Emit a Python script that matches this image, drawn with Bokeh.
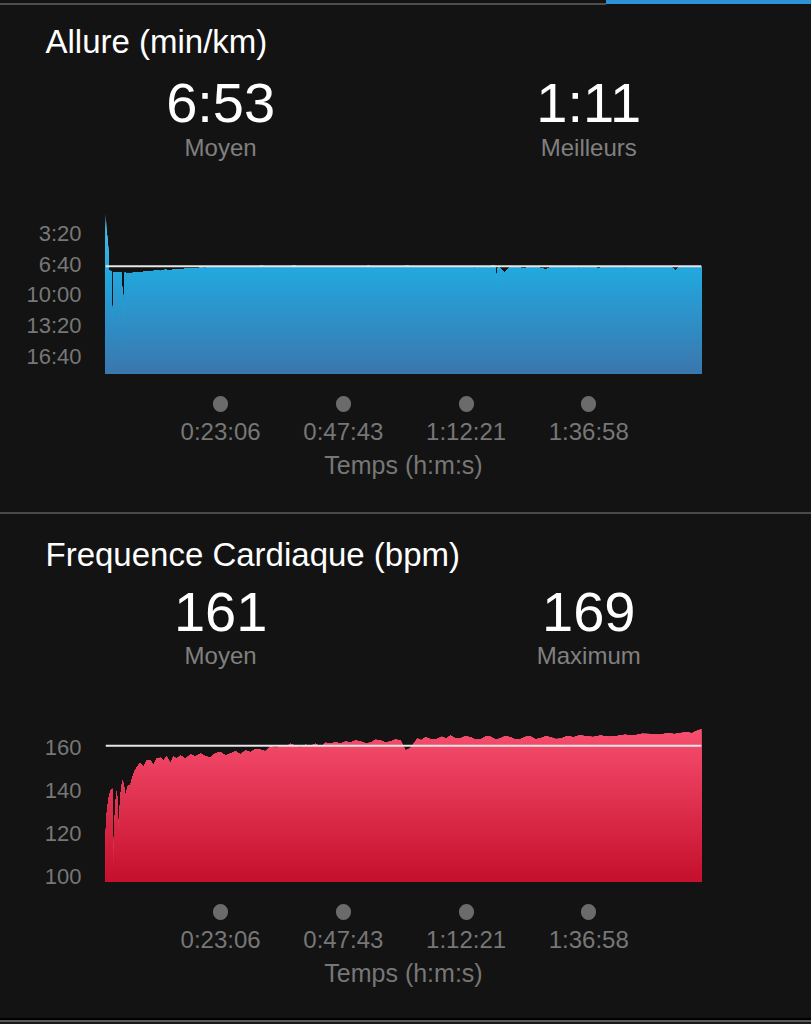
import numpy as np
from bokeh.plotting import figure
from bokeh.models import Range1d, FixedTicker, Span, LinearAxis, Spacer
from bokeh.layouts import column, row
from bokeh.embed import file_html
from bokeh.resources import INLINE

BG = "#131313"
FONT = "Liberation Sans"
GRAY = "#777777"

# ---------------- data ----------------
duration_s = 7175
time_ticks = [1386, 2863, 4341, 5818]
time_tick_labels = ["0:23:06", "0:47:43", "1:12:21", "1:36:58"]

pace_ticks = [200, 400, 600, 800, 1000]
pace_tick_labels = ["3:20", "6:40", "10:00", "13:20", "16:40"]
pace_avg_s = 413          # 6:53
pace_summary = ["6:53", "1:11"]
pace_summary_names = ["Moyen", "Meilleurs"]

hr_ticks = [100, 120, 140, 160]
hr_tick_labels = ["100", "120", "140", "160"]
hr_avg = 161
hr_summary = ["161", "169"]
hr_summary_names = ["Moyen", "Maximum"]

# (time in s, pace in s/km)
pace_points = [
    (0, 150), (4, 71), (10, 180), (20, 300), (26, 205), (34, 330), (42, 440),
    (70, 445), (80, 700), (86, 1100), (92, 700), (100, 450), (140, 455),
    (190, 452), (205, 600), (214, 1040), (222, 600), (232, 455), (300, 460),
    (360, 452), (420, 456), (480, 446), (540, 449), (600, 441), (660, 444),
    (720, 436), (780, 439), (840, 432), (900, 435), (960, 429), (1020, 426),
    (1080, 429), (1140, 422), (1200, 425), (1260, 418), (1320, 421),
    (1400, 415), (1480, 419), (1560, 412), (1640, 417), (1720, 420),
    (1800, 414), (1880, 410), (1960, 418), (2040, 415), (2120, 421),
    (2200, 413), (2280, 409), (2360, 416), (2440, 419), (2520, 412),
    (2600, 417), (2680, 414), (2760, 420), (2840, 411), (2920, 416),
    (3000, 413), (3080, 418), (3160, 410), (3240, 415), (3320, 419),
    (3400, 412), (3480, 416), (3560, 413), (3640, 409), (3720, 417),
    (3800, 421), (3880, 414), (3960, 418), (4040, 412), (4120, 416),
    (4200, 420), (4280, 413), (4360, 417), (4440, 424), (4520, 415),
    (4600, 419), (4680, 405), (4700, 420), (4707, 590), (4714, 430),
    (4740, 418), (4804, 453), (4880, 416), (4960, 420), (5040, 427),
    (5120, 414), (5200, 419), (5300, 434), (5380, 416), (5460, 421),
    (5540, 413), (5620, 418), (5700, 424), (5780, 415), (5860, 419),
    (5940, 426), (6020, 414), (6100, 420), (6180, 417), (6260, 425),
    (6340, 415), (6420, 421), (6500, 418), (6580, 412), (6660, 420),
    (6740, 416), (6820, 422), (6865, 440), (6900, 418), (6980, 414),
    (7060, 419), (7140, 416), (7175, 417),
]

# (time in s, heart rate in bpm)
hr_points = [
    (0, 118), (12, 128), (36, 136), (60, 140), (84, 141), (96, 102),
    (108, 125), (132, 140), (144, 136), (156, 121), (181, 138), (205, 145),
    (229, 141), (241, 137), (265, 142), (301, 143), (337, 148), (361, 150),
    (397, 152), (421, 153), (457, 151), (494, 154), (542, 154), (578, 152),
    (614, 155), (662, 155.5), (698, 154), (734, 156), (782, 153), (818, 156),
    (855, 155), (903, 156.5), (963, 155), (1023, 157), (1084, 156),
    (1144, 157.4), (1204, 156), (1264, 155.6), (1324, 157.5), (1385, 158),
    (1445, 156.5), (1505, 157.4), (1565, 158.5), (1625, 157), (1685, 158.8),
    (1746, 158), (1806, 159.5), (1866, 159.2), (1926, 158.5), (1986, 160.8),
    (2047, 160), (2107, 161), (2167, 160.5), (2227, 162), (2288, 161),
    (2348, 160.4), (2408, 161.5), (2468, 161), (2530, 162), (2589, 160.5),
    (2650, 162.5), (2709, 162), (2770, 162.8), (2829, 162), (2890, 163),
    (2950, 162.6), (3010, 163.5), (3070, 163), (3130, 162.2), (3190, 162.5),
    (3250, 163.8), (3311, 163.5), (3370, 162.6), (3431, 163), (3490, 164),
    (3552, 163.5), (3612, 158.8), (3672, 160), (3756, 164.4), (3800, 163.6),
    (3853, 165), (3910, 164.2), (3973, 164), (4050, 165.2), (4100, 164.4),
    (4154, 165.8), (4210, 164.6), (4274, 164.5), (4330, 165.5),
    (4395, 165), (4455, 163.8), (4515, 164), (4575, 165.4), (4635, 165.3),
    (4700, 163.9), (4756, 164.5), (4815, 165.6), (4876, 165), (4935, 164),
    (4997, 164.2), (5060, 165.3), (5117, 165.4), (5180, 164.1),
    (5238, 164.5), (5300, 165.5), (5358, 165), (5420, 164.2), (5478, 164.3),
    (5560, 165.6), (5635, 165), (5710, 165.9), (5779, 165.5), (5870, 165.1),
    (5960, 165.8), (6050, 165.2), (6140, 165.5), (6250, 166.2),
    (6357, 165.8), (6460, 166.6), (6562, 166.5), (6660, 166.2),
    (6767, 166.9), (6850, 166.5), (6923, 167), (7007, 167.4), (7060, 166.9),
    (7104, 167.8), (7164, 168.6), (7175, 168.9),
]

pace_time, pace_value = [np.array(a, dtype=float) for a in zip(*pace_points)]
hr_time, hr_value = [np.array(a, dtype=float) for a in zip(*hr_points)]


def hex_to_rgb(h):
    h = h.lstrip("#")
    return np.array([int(h[i:i + 2], 16) for i in (0, 2, 4)], dtype=float)


def stop_color(stops, f):
    for (f0, c0), (f1, c1) in zip(stops[:-1], stops[1:]):
        if f0 <= f <= f1:
            w = 0 if f1 == f0 else (f - f0) / (f1 - f0)
            c = hex_to_rgb(c0) * (1 - w) + hex_to_rgb(c1) * w
            return "#%02x%02x%02x" % tuple(int(round(x)) for x in c)
    return stops[-1][1]


def gradient_area(p, t, v, top, base, stops, n=48):
    for k in range(n):
        lim = top + (base - top) * k / n
        y1 = np.maximum(v, lim) if base > top else np.minimum(v, lim)
        p.varea(x=t, y1=y1, y2=base, fill_color=stop_color(stops, (k + 0.5) / n))


def text_axis(p, labels, size, color, standoff):
    pos = [time_ticks[0], time_ticks[-1]]
    ax = LinearAxis(ticker=FixedTicker(ticks=pos),
                    major_label_overrides=dict(zip(pos, labels)),
                    axis_line_color=None, major_tick_line_color=None,
                    minor_tick_line_color=None, major_tick_in=0,
                    major_tick_out=0, major_label_standoff=standoff,
                    major_label_text_font=FONT, major_label_text_font_size=size,
                    major_label_text_color=color)
    p.add_layout(ax, "above")


def make_panel(height, border_top, border_bottom, y_top, y_bottom, t, v,
               stops, avg, yticks, ylabels, title, summary, summary_names,
               num_standoff, title_standoff):
    p = figure(width=811, height=height, output_backend="svg",
               toolbar_location=None, x_range=Range1d(0, duration_s),
               y_range=Range1d(y_bottom, y_top),
               min_border_left=105, min_border_right=110,
               min_border_top=border_top, min_border_bottom=border_bottom)
    p.background_fill_color = BG
    p.border_fill_color = BG
    p.outline_line_color = None
    p.grid.visible = False

    gradient_area(p, t, v, y_top, y_bottom, stops)
    p.add_layout(Span(location=avg, dimension="width", line_color="#e6e6e6",
                      line_width=2))

    ya = p.yaxis[0]
    ya.ticker = FixedTicker(ticks=yticks)
    ya.major_label_overrides = dict(zip(yticks, ylabels))
    ya.axis_line_color = None
    ya.major_tick_line_color = None
    ya.minor_tick_line_color = None
    ya.major_tick_in = 0
    ya.major_tick_out = 0
    ya.major_label_standoff = 24
    ya.major_label_text_font = FONT
    ya.major_label_text_font_size = "22px"
    ya.major_label_text_color = GRAY

    xa = p.xaxis[0]
    xa.ticker = FixedTicker(ticks=time_ticks)
    xa.major_label_overrides = dict(zip(time_ticks, time_tick_labels))
    xa.axis_line_color = None
    xa.minor_tick_line_color = None
    xa.major_tick_line_color = "#6b6b6b"
    xa.major_tick_line_width = 15
    xa.major_tick_line_cap = "round"
    xa.major_tick_in = -30
    xa.major_tick_out = 31
    xa.major_label_standoff = 13
    xa.major_label_text_font = FONT
    xa.major_label_text_font_size = "24px"
    xa.major_label_text_color = GRAY
    xa.axis_label = "Temps (h:m:s)"
    xa.axis_label_text_font = FONT
    xa.axis_label_text_font_size = "25px"
    xa.axis_label_text_font_style = "normal"
    xa.axis_label_text_color = GRAY
    xa.axis_label_standoff = 3

    text_axis(p, summary_names, "24px", "#808080", 45)
    text_axis(p, summary, "56px", "#ffffff", num_standoff)

    p.title.text = title
    p.title.align = "left"
    p.title.offset = -60
    p.title.standoff = title_standoff
    p.title.text_font = FONT
    p.title.text_font_size = "33px"
    p.title.text_font_style = "normal"
    p.title.text_color = "#ffffff"
    return p


pace_stops = [(0.0, "#56c6ef"), (0.38, "#22a8de"), (1.0, "#3b76ae")]
hr_stops = [(0.0, "#fa5878"), (0.15, "#f44b6b"), (1.0, "#c50f2c")]

tab_bar = row(
    Spacer(width=606, height=5,
           styles={"background": "linear-gradient(#131313 0 60%, #4f4f4f 60% 100%)"}),
    Spacer(width=205, height=5,
           styles={"background": "linear-gradient(#2b93d6 0 80%, #131313 80% 100%)"}),
    spacing=0)

p1 = make_panel(507, 200, 139, 17.9, 1110.6, pace_time, pace_value,
                pace_stops, pace_avg_s, pace_ticks, pace_tick_labels,
                "Allure (min/km)", pace_summary, pace_summary_names, -3, 15)

sep = Spacer(width=811, height=2, styles={"background-color": "#4a4a4a"})

p2 = make_panel(502, 199, 135, 176.1, 97.67, hr_time, hr_value,
                hr_stops, hr_avg, hr_ticks, hr_tick_labels,
                "Frequence Cardiaque (bpm)", hr_summary, hr_summary_names,
                8, 34)

bottom_bar = Spacer(width=811, height=8, styles={
    "background": "linear-gradient(#131313 0 25%, #000000 25% 50%, "
                  "#5a5a5a 50% 75%, #1b1b1b 75% 100%)"})

layout = column(tab_bar, p1, sep, p2, bottom_bar, spacing=0)

open("out.html", "w").write(file_html(layout, INLINE).replace(
    "<head>", "<head><style>html,body{background:#131313;}</style>", 1))
